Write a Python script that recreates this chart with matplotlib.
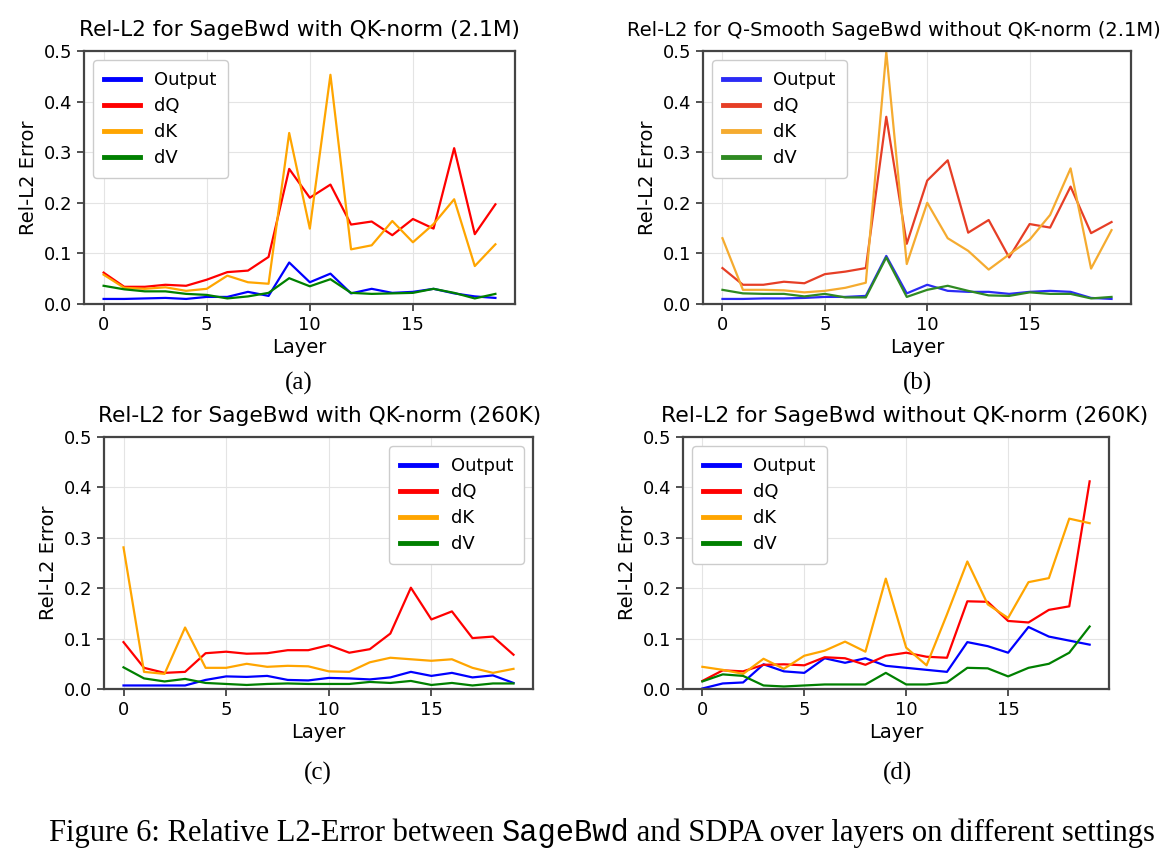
import numpy as np
import matplotlib
matplotlib.use('Agg')
import matplotlib.pyplot as plt

## Data
layers = np.arange(20)
series_names = ['Output', 'dQ', 'dK', 'dV']

# (a) SageBwd with QK-norm (2.1M)
a_out = [0.010, 0.010, 0.011, 0.012, 0.010, 0.014, 0.014, 0.024, 0.016, 0.082,
         0.043, 0.060, 0.021, 0.030, 0.022, 0.024, 0.030, 0.021, 0.015, 0.012]
a_dq = [0.062, 0.034, 0.034, 0.038, 0.036, 0.048, 0.063, 0.066, 0.093, 0.267,
        0.210, 0.236, 0.157, 0.163, 0.136, 0.168, 0.149, 0.308, 0.138, 0.197]
a_dk = [0.058, 0.032, 0.030, 0.033, 0.026, 0.030, 0.056, 0.043, 0.040, 0.338,
        0.149, 0.453, 0.108, 0.116, 0.164, 0.122, 0.158, 0.207, 0.075, 0.118]
a_dv = [0.036, 0.029, 0.025, 0.025, 0.020, 0.018, 0.011, 0.015, 0.022, 0.051,
        0.035, 0.049, 0.022, 0.020, 0.021, 0.022, 0.030, 0.022, 0.011, 0.020]

# (b) Q-Smooth SageBwd without QK-norm (2.1M)
b_out = [0.010, 0.010, 0.011, 0.011, 0.012, 0.014, 0.014, 0.016, 0.095, 0.021,
         0.038, 0.026, 0.024, 0.024, 0.020, 0.024, 0.026, 0.024, 0.012, 0.010]
b_dq = [0.071, 0.038, 0.038, 0.044, 0.041, 0.059, 0.064, 0.071, 0.370, 0.119,
        0.244, 0.284, 0.141, 0.166, 0.092, 0.158, 0.151, 0.232, 0.140, 0.162]
b_dk = [0.130, 0.028, 0.028, 0.027, 0.023, 0.026, 0.032, 0.042, 0.498, 0.079,
        0.200, 0.130, 0.105, 0.068, 0.098, 0.127, 0.176, 0.268, 0.070, 0.146]
b_dv = [0.028, 0.021, 0.020, 0.020, 0.015, 0.020, 0.013, 0.013, 0.092, 0.014,
        0.028, 0.036, 0.026, 0.017, 0.016, 0.023, 0.020, 0.020, 0.011, 0.014]

# (c) SageBwd with QK-norm (260K)
c_out = [0.007, 0.007, 0.007, 0.007, 0.018, 0.025, 0.024, 0.026, 0.018, 0.017,
         0.022, 0.021, 0.019, 0.023, 0.034, 0.026, 0.032, 0.023, 0.027, 0.012]
c_dq = [0.093, 0.042, 0.032, 0.034, 0.071, 0.074, 0.070, 0.071, 0.077, 0.077,
        0.087, 0.072, 0.079, 0.110, 0.201, 0.138, 0.154, 0.101, 0.104, 0.068]
c_dk = [0.281, 0.034, 0.030, 0.122, 0.042, 0.042, 0.050, 0.044, 0.046, 0.045,
        0.035, 0.034, 0.053, 0.062, 0.059, 0.056, 0.059, 0.042, 0.032, 0.040]
c_dv = [0.043, 0.021, 0.015, 0.020, 0.012, 0.010, 0.008, 0.010, 0.011, 0.010,
        0.010, 0.010, 0.014, 0.012, 0.016, 0.008, 0.012, 0.007, 0.011, 0.011]

# (d) SageBwd without QK-norm (260K)
d_out = [0.001, 0.011, 0.013, 0.049, 0.035, 0.032, 0.061, 0.052, 0.061, 0.046,
         0.042, 0.038, 0.034, 0.093, 0.085, 0.072, 0.123, 0.104, 0.096, 0.088]
d_dq = [0.016, 0.037, 0.035, 0.048, 0.049, 0.047, 0.063, 0.061, 0.048, 0.066,
        0.072, 0.064, 0.062, 0.174, 0.173, 0.135, 0.132, 0.157, 0.164, 0.412]
d_dk = [0.044, 0.038, 0.030, 0.060, 0.040, 0.066, 0.076, 0.094, 0.074, 0.219,
        0.082, 0.047, 0.148, 0.253, 0.168, 0.141, 0.212, 0.220, 0.338, 0.329]
d_dv = [0.015, 0.029, 0.026, 0.007, 0.005, 0.007, 0.009, 0.009, 0.009, 0.032,
        0.009, 0.009, 0.013, 0.042, 0.041, 0.025, 0.042, 0.050, 0.072, 0.124]

titles = ['Rel-L2 for SageBwd with QK-norm (2.1M)',
          'Rel-L2 for Q-Smooth SageBwd without QK-norm (2.1M)',
          'Rel-L2 for SageBwd with QK-norm (260K)',
          'Rel-L2 for SageBwd without QK-norm (260K)']
sub_labels = ['(a)', '(b)', '(c)', '(d)']

colors_std = ['blue', 'red', 'orange', 'green']
colors_b = ['#2b2bf5', '#e63e26', '#f5ab30', '#2f8a22']

W, H = 1170, 867
fig = plt.figure(figsize=(W / 100, H / 100), dpi=100)

def px_axes(left, top, right, bottom):
    return fig.add_axes([left / W, 1 - bottom / H, (right - left) / W, (bottom - top) / H])

# axes, data, colours, legend loc, sub-label position, title size, title centre x (px)
panels = [
    (px_axes(84, 51, 515, 304), [a_out, a_dq, a_dk, a_dv], colors_std, 'upper left', (299, 383), 15.6, 299),
    (px_axes(703, 51, 1131, 304), [b_out, b_dq, b_dk, b_dv], colors_b, 'upper left', (917, 383), 14.0, 894),
    (px_axes(104, 437, 533, 689), [c_out, c_dq, c_dk, c_dv], colors_std, 'upper right', (318, 773), 15.6, 320),
    (px_axes(683, 437, 1109, 689), [d_out, d_dq, d_dk, d_dv], colors_std, 'upper left', (897, 773), 15.8, 905),
]

for i, (ax, data, cols, loc, sub_xy, tsize, tx) in enumerate(panels):
    for name, vals, c in zip(series_names, data, cols):
        ax.plot(layers, vals, color=c, lw=1.6, label=name)
    ax.set_ylim(0, 0.5)
    ax.set_xticks([0, 5, 10, 15])
    ax.set_yticks([0.0, 0.1, 0.2, 0.3, 0.4, 0.5])
    ax.grid(True, color='#e4e4e4', lw=0.8)
    ax.tick_params(labelsize=13, length=5, width=1.2, color='#333333')
    for sp in ax.spines.values():
        sp.set_color('#444444')
        sp.set_linewidth(1.6)
    ttl = ax.set_title(titles[i], fontsize=tsize, pad=11)
    bb = ax.get_position()
    ttl.set_x((tx / W - bb.x0) / bb.width)
    ax.set_xlabel('Layer', fontsize=14, labelpad=3)
    ax.set_ylabel('Rel-L2 Error', fontsize=14, labelpad=4)
    leg = ax.legend(loc=loc, fontsize=13, handlelength=2.0, borderpad=0.6,
                    labelspacing=0.45, framealpha=1.0, edgecolor='#cccccc')
    for ln in leg.get_lines():
        ln.set_linewidth(3.5)
    fig.text(sub_xy[0] / W, 1 - sub_xy[1] / H, sub_labels[i], ha='center', va='center',
             fontsize=18, family='Liberation Serif')

# caption with monospace SageBwd
renderer = fig.canvas.get_renderer()
cap_parts = [('Figure 6: Relative L2-Error between ', 'Liberation Serif'),
             ('SageBwd', 'Liberation Mono'),
             (' and SDPA over layers on different settings', 'Liberation Serif')]
cap_y = 1 - 833 / H
texts = []
for s, fam in cap_parts:
    t = fig.text(0, cap_y, s, fontsize=22, family=fam, va='center', ha='left')
    texts.append(t)
widths = [t.get_window_extent(renderer).width for t in texts]
x0 = 602 - sum(widths) / 2
for t, w in zip(texts, widths):
    t.set_x(x0 / W)
    x0 += w

fig.savefig('out.png', dpi=100)
